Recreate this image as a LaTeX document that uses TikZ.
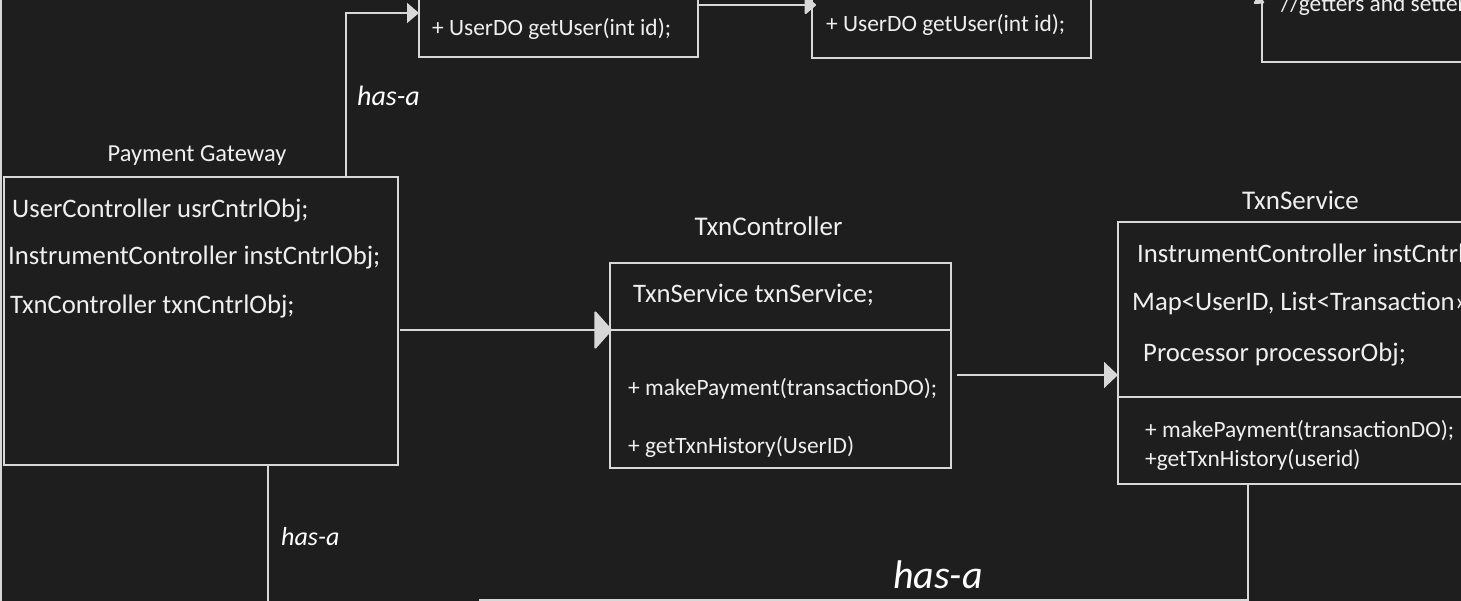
\documentclass[tikz,border=0pt]{standalone}
\usepackage{fontspec}
\setmainfont{Carlito}
\usetikzlibrary{arrows.meta}
\definecolor{bg}{HTML}{1E1E1E}
\definecolor{ln}{HTML}{D8D8D8}
\definecolor{tx}{HTML}{EFEFEF}
\begin{document}
\begin{tikzpicture}[x=1pt,y=-1pt,
  box/.style={draw=ln,line width=2pt,rectangle,anchor=north west,inner sep=0pt,outer sep=0pt},
  conn/.style={draw=ln,line width=2pt},
  fld/.style={text=tx,anchor=base west,inner sep=0pt,font=\fontsize{26.7}{30}\selectfont},
  mth/.style={text=tx,anchor=base west,inner sep=0pt,font=\fontsize{23.4}{27}\selectfont},
  ttl/.style={text=tx,anchor=base,inner sep=0pt,font=\fontsize{#1}{28}\selectfont},
  hand/.style={text=white,anchor=base west,inner sep=0pt,font=\itshape\fontsize{#1}{#1}\selectfont},
  tri/.style={-{Triangle[length=14pt,width=26pt]}},
  blob/.style={-{Triangle[length=18pt,width=40pt,round]}},
  smallblob/.style={-{Triangle[length=12pt,width=20pt,round]}}
]
\fill[bg] (0,0) rectangle (1461,601);
\useasboundingbox (0,0) rectangle (1461,601);
\clip (0,0) rectangle (1461,601);

% boxes
\node[box,minimum width=279pt,minimum height=117pt] (uc) at (419,-60) {};
\node[box,minimum width=279pt,minimum height=118pt] (us) at (812,-60) {};
\node[box,minimum width=260pt,minimum height=122pt] (tr) at (1262,-60) {};
\node[box,minimum width=394pt,minimum height=288pt] (pg) at (4,177) {};
\node[box,minimum width=341pt,minimum height=205pt] (tc) at (610,263) {};
\node[box,minimum width=400pt,minimum height=262pt] (ts) at (1118,222) {};
\node[box,minimum width=768pt,minimum height=100pt] (ic) at (480,599.5) {};

% dividers
\draw[conn] ([yshift=-67pt]tc.north west) -- ([yshift=-67pt]tc.north east);
\draw[conn] ([yshift=-175pt]ts.north west) -- ([yshift=-175pt]ts.north east);

% left edge line
\draw[conn] (1,0) -- (1,601);

% titles
\node[ttl=24.4] (pgt) at (197,162) {Payment Gateway};
\node[ttl=27] (tct) at (768.5,236) {TxnController};
\node[ttl=27] (tst) at (1300.5,210) {TxnService};

% texts in boxes
\node[mth] (uc1) at (432,36) {+ UserDO getUser(int id);};
\node[mth] (us1) at (826,32) {+ UserDO getUser(int id);};
\node[mth] (tr1) at (1281,12) {//getters and setters};

\node[fld] (pg1) at (12,218) {UserController usrCntrlObj;};
\node[fld] (pg2) at (8,265) {InstrumentController instCntrlObj;};
\node[fld] (pg3) at (10,314) {TxnController txnCntrlObj;};

\node[fld] (tc1) at (633,303) {TxnService txnService;};
\node[mth] (tc2) at (628,395) {+ makePayment(transactionDO);};
\node[mth] (tc3) at (628,453) {+ getTxnHistory(UserID)};

\node[fld] (ts1) at (1137,263) {InstrumentController instCntrlObj;};
\node[fld] (ts2) at (1132,311) {Map<UserID, List<Transaction>> txnHistory;};
\node[fld] (ts3) at (1143,361) {Processor processorObj;};
\node[mth] (ts4) at (1145,437) {+ makePayment(transactionDO);};
\node[mth] (ts5) at (1145,466) {+getTxnHistory(userid)};

% connectors
\draw[conn,-{Triangle[length=12pt,width=20pt]}] ([xshift=342pt]pg.north west) |- ([yshift=44pt]uc.south west);
\draw[conn,smallblob] ([yshift=52pt]uc.south east) -- ([xshift=4pt,yshift=53pt]us.south west);
\coordinate (trin) at (1244,-8);
\draw[conn,-{Triangle[length=10pt,width=12pt,round]}] (trin) -- ([xshift=2pt,yshift=59pt]tr.south west);
\draw[conn,blob] ([xshift=2pt,yshift=135pt]pg.south east) -- ([xshift=2pt,yshift=138pt]tc.south west);
\draw[conn,tri] ([xshift=6pt,yshift=93pt]tc.south east) -- ([yshift=109pt]ts.south west);
\coordinate (pgdown) at (268,620);
\coordinate (tsdown) at (1248,620);
\draw[conn] ([xshift=264pt]pg.south west) -- (pgdown);
\draw[conn] ([xshift=130pt]ts.south west) -- (tsdown);

% handwritten labels
\node[hand=28] (h1) at (357,106) {has-a};
\node[hand=26] (h2) at (281,545) {has-a};
\node[hand=40] (h3) at (893,588) {has-a};
\end{tikzpicture}
\end{document}
